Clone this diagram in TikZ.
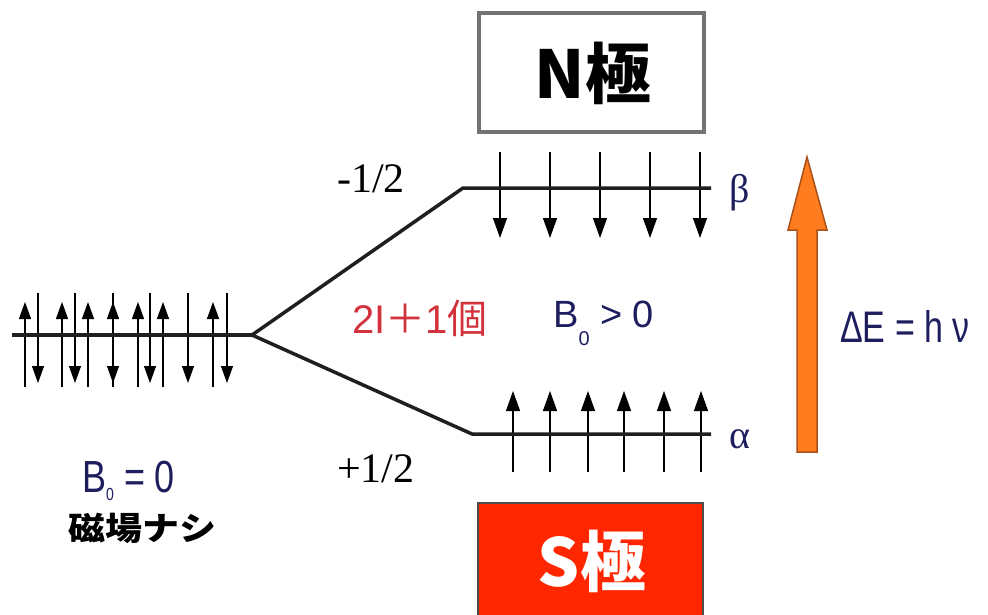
\documentclass[tikz,border=0pt]{standalone}
\usepackage{fontspec}
\setmainfont{Liberation Serif}
\newfontfamily\sansf{Liberation Sans}
\newfontfamily\cjk{Noto Sans CJK JP}
\usetikzlibrary{arrows.meta}
\definecolor{navy}{RGB}{30,30,95}
\definecolor{countred}{RGB}{210,50,60}
\definecolor{polered}{RGB}{255,38,0}
\definecolor{arroworange}{RGB}{255,125,30}
\definecolor{arrowedge}{RGB}{170,80,25}
\tikzset{
  level/.style={line width=3.5pt, draw=black!88, line join=round},
  spinsmall/.style={line width=1.1pt, -{Triangle[width=12pt,length=17pt]}},
  spinbig/.style={line width=1.1pt, -{Triangle[width=14pt,length=20pt]}},
  pole/.style={minimum width=225pt, minimum height=119pt, inner sep=0pt, line width=3.5pt},
  lbl/.style={inner sep=0pt, anchor=base west},
}
\begin{document}
\begin{tikzpicture}[x=1pt,y=-1pt]
\useasboundingbox (0,0) rectangle (988,615);

% magnet poles
\node[pole, draw=black!55, fill=white] (npole) at (591.5,72.5) {};
\node[inner sep=0pt] (ntext) at (593,73) {\cjk\bfseries\fontsize{66}{66}\selectfont N極};
\node[pole, draw=black!70, line width=1.5pt, fill=polered, minimum width=225pt, minimum height=130pt, anchor=north] (spole) at (590.5,502) {};
\node[inner sep=0pt, text=white] (stext) at (592,561) {\cjk\bfseries\fontsize{66}{66}\selectfont S極};

% energy levels
\coordinate (l0) at (12,335);
\coordinate (split) at (252,335);
\coordinate (bcorner) at (463,188);
\coordinate (bend) at (711,188);
\coordinate (acorner) at (472,434);
\coordinate (aend) at (711,434);

% spins without field
\foreach \x in {25,62,88,113,138,163,213}
  \draw[spinsmall] (\x,387) -- (\x,302);
\foreach \x in {38,75,113,150,188,227}
  \draw[spinsmall] (\x,293) -- (\x,383);

% beta spins (down)
\foreach \x in {500,550,600,650,700}
  \draw[spinbig] (\x,152) -- (\x,238);
% alpha spins (up)
\foreach \x in {513,550,588,624,664,701}
  \draw[spinbig] (\x,472) -- (\x,391);

\draw[level] (l0) -- (split);
\draw[level] (split) -- (bcorner) -- (bend);
\draw[level] (split) -- (acorner) -- (aend);

% labels
\node[lbl] (mhalf) at (337,192) {\fontsize{42}{42}\selectfont -1/2};
\node[lbl] (phalf) at (337,482) {\fontsize{42}{42}\selectfont +1/2};
\node[inner sep=0pt, text=navy] (beta) at (740,193) {\fontsize{40}{40}\selectfont β};
\node[inner sep=0pt, text=navy] (alpha) at (740,439) {\fontsize{40}{40}\selectfont α};

\node[lbl, text=countred] (count) at (352,333)
  {\sansf\fontsize{40}{40}\selectfont 2I\cjk＋\sansf 1\cjk 個};
\node[lbl, text=navy] (bpos) at (553,327)
  {\sansf\fontsize{38}{38}\selectfont B\raisebox{-18pt}{\fontsize{20}{20}\selectfont 0} {>} 0};
\node[lbl, text=navy] (bzero) at (82,492)
  {\scalebox{1}[1.25]{\sansf\fontsize{36}{36}\selectfont B\raisebox{-6.5pt}{\fontsize{14}{14}\selectfont 0} = 0}};
\node[inner sep=0pt] (nofield) at (142,528)
  {\scalebox{1}[0.88]{\cjk\bfseries\fontsize{37}{37}\selectfont 磁場ナシ}};

% transition arrow
\draw[line width=1.5pt, draw=arrowedge, fill=arroworange, line join=miter]
  (797,452) -- (797,230) -- (788,230) -- (807,157) -- (827,230) -- (817,230) -- (817,452) -- cycle;
\node[lbl, text=navy] (de) at (840,342)
  {\scalebox{1}[1.3]{\sansf\fontsize{34}{34}\selectfont ΔE = h ν}};
\end{tikzpicture}
\end{document}
